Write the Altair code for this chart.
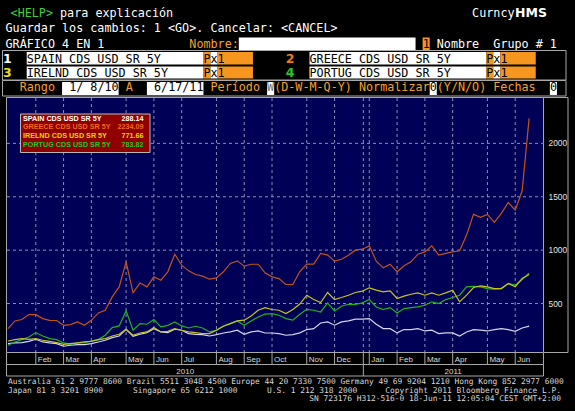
import datetime as dt
import pandas as pd
import altair as alt

# ---------------- data ----------------
start = dt.date(2010, 1, 8)
n_points = 76
dates = [start + dt.timedelta(weeks=i) for i in range(n_points)]

spain = [125, 131, 134, 146, 165, 140, 131, 125, 100, 109, 115, 115, 125, 140, 156, 181,
         196, 259, 193, 212, 228, 265, 234, 228, 259, 250, 218, 212, 209, 196, 209, 224,
         234, 250, 212, 234, 243, 224, 224, 218, 203, 209, 225, 256, 265, 318, 328, 297,
         328, 337, 353, 353, 359, 306, 265, 265, 225, 256, 256, 265, 243, 250, 218, 225,
         225, 196, 234, 256, 250, 243, 256, 265, 256, 240, 271, 288.14]
greece = [265, 337, 350, 397, 396, 359, 343, 341, 296, 303, 327, 296, 343, 412, 437, 562,
          656, 890, 600, 693, 656, 750, 718, 797, 962, 859, 806, 772, 756, 728, 740, 797,
          875, 900, 850, 868, 868, 787, 750, 734, 678, 678, 800, 869, 869, 969, 953, 897,
          915, 953, 1000, 1009, 1040, 897, 834, 869, 797, 853, 890, 962, 984, 1040, 953, 969,
          984, 994, 1141, 1335, 1307, 1335, 1260, 1344, 1447, 1375, 1556, 2234.09]
ireland = [149, 162, 172, 165, 172, 156, 146, 134, 118, 125, 131, 140, 146, 162, 172, 196,
           212, 259, 203, 224, 234, 275, 234, 240, 265, 250, 234, 228, 218, 218, 250, 287,
           312, 337, 344, 384, 437, 462, 444, 437, 406, 444, 495, 578, 537, 509, 603, 537,
           556, 578, 603, 616, 647, 625, 609, 619, 547, 569, 587, 600, 578, 600, 578, 600,
           625, 516, 578, 650, 665, 656, 640, 640, 687, 656, 734, 771.66]
portugal = [109, 140, 162, 187, 228, 196, 172, 162, 131, 118, 131, 134, 149, 162, 203, 275,
            290, 431, 250, 312, 306, 350, 281, 296, 328, 290, 271, 287, 271, 234, 250, 290,
            312, 337, 296, 337, 374, 400, 406, 390, 359, 344, 400, 446, 437, 421, 506, 431,
            475, 493, 493, 506, 537, 468, 443, 462, 412, 453, 462, 468, 484, 516, 500, 537,
            556, 578, 656, 662, 656, 640, 634, 640, 687, 672, 725, 783.82]

series_names = ["SPAIN CDS USD SR 5Y", "GREECE CDS USD SR 5Y",
                "IRELND CDS USD SR 5Y", "PORTUG CDS USD SR 5Y"]
series_values = [spain, greece, ireland, portugal]
line_colors = ["#d4d4ec", "#c4521e", "#c8c41e", "#1eb41e"]
legend_colors = ["#ffffff", "#f06a1a", "#f0d200", "#22c422"]
legend_values = ["288.14", "2234.09", "771.66", "783.82"]

y_ticks = [500, 1000, 1500, 2000]
month_abbr = ["Jan", "Feb", "Mar", "Apr", "May", "Jun",
              "Jul", "Aug", "Sep", "Oct", "Nov", "Dec"]
year_labels = ["2010", "2011"]
range_start = dt.date(2010, 1, 7)
range_end = dt.date(2011, 7, 1)
year_break = dt.date(2011, 1, 1)


def wk(d):
    return (d - start).days / 7.0


weeks = [wk(d) for d in dates]
month_weeks, month_labels = [], []
for i in range(1, n_points):
    if dates[i].month != dates[i - 1].month:
        month_weeks.append(weeks[i])
        month_labels.append(month_abbr[dates[i].month - 1])

x0, x1 = wk(range_start), wk(range_end)
xb = wk(year_break)
year_pos = [(x0 + xb) / 2, (xb + x1) / 2]

# ---------------- styling ----------------
PL, PR, PT, PB = 7, 543, 98, 352
NAVY = "#000056"
GRID = "#8c8cb8"
BORDER = "#a8a8a8"
ORANGE = "#f7961e"
ORANGE_T = "#f4a02c"
MONO = "DejaVu Sans Mono"
MS = 11.74
SANS = "Liberation Sans"

xscale = alt.Scale(domain=[x0, x1], range=[PL, PR], nice=False, zero=False)
yscale = alt.Scale(domain=[46, 2425], range=[PB, PT], nice=False, zero=False)

one = pd.DataFrame({"k": [0]})


def col(k):
    return 5.5 + 7.07 * k


def T(s, x, y, color="#ffffff", size=MS, font=MONO, weight="normal",
      align="left", baseline="alphabetic"):
    return alt.Chart(one).mark_text(
        text=s, font=font, fontSize=size, fontWeight=weight, color=color,
        align=align, baseline=baseline
    ).encode(x=alt.value(x), y=alt.value(y))


def R(xa, ya, xb_, yb, fill, stroke=None, sw=1):
    kw = {"fill": fill}
    if stroke:
        kw.update(stroke=stroke, strokeWidth=sw)
    else:
        kw.update(strokeWidth=0)
    return alt.Chart(one).mark_rect(**kw).encode(
        x=alt.value(xa), x2=alt.value(xb_), y=alt.value(ya), y2=alt.value(yb))


layers = []

# ---- terminal header ----
layers += [
    T("<HELP>", col(1) - 2, 17, "#3ccc3c"),
    T("para explicación", col(8) - 2, 17),
    T("Curncy", col(66), 17),
    T("HMS", 515, 17, size=12.5, font="DejaVu Sans", weight="bold"),
    T("Guardar los cambios: 1 <GO>. Cancelar: <CANCEL>", col(0), 32),
    T("GRÁFICO 4 EN 1", col(0), 48),
    T("Nombre:", col(26), 48, ORANGE_T),
    R(col(33), 37.5, col(58), 50.5, "#ffffff"),
    R(col(59), 37.5, col(60), 50.5, ORANGE),
    T("1", col(59), 48, "#000000"),
    T("Nombre", col(61), 48),
    T("Grupo # 1", col(69), 48),
]

# ---- series rows ----
layers.append(R(2.5, 50.5, 566, 80, "#000000", BORDER))
digit_cols = ["#ffffff", "#f07a1a", "#f0dc1e", "#2cc42c"]
for idx, name in enumerate(series_names):
    row = idx // 2
    half = idx % 2
    ya, yb = (52, 64.5) if row == 0 else (66.5, 78.5)
    base = 63 if row == 0 else 77
    c0 = 0 if half == 0 else 40
    layers += [
        T(str(idx + 1), col(c0) - 2.5, base, digit_cols[idx], size=12.5,
          font="DejaVu Sans", weight="bold"),
        R(col(c0 + 3), ya, col(c0 + 28), yb, "#ffffff"),
        T(name, col(c0 + 3), base, "#000000"),
        R(col(c0 + 28), ya, col(c0 + 29), yb, ORANGE),
        T("P", col(c0 + 28), base, "#000000"),
        R(col(c0 + 29), ya, col(c0 + 30), yb, "#ffffff"),
        T("x", col(c0 + 29), base, "#000000"),
        R(col(c0 + 30), ya, col(c0 + 35), yb, ORANGE),
        T("1", col(c0 + 30), base, "#000000"),
    ]

# ---- range row ----
layers += [
    R(2.5, 80.5, 566, 96, "#000000", BORDER),
    T("Rango", col(2), 91, ORANGE_T),
    R(col(8), 82, col(16), 95, "#ffffff"),
    T("1/ 8/10", col(16), 91, "#000000", align="right"),
    T("A", col(17), 91, ORANGE_T),
    R(col(20), 82, col(28), 95, "#ffffff"),
    T("6/17/11", col(28), 91, "#000000", align="right"),
    T("Período", col(29), 91, ORANGE_T),
    R(col(37), 82, col(38), 95, "#ffffff"),
    T("W", col(37), 91, "#707070"),
    T("(D-W-M-Q-Y) Normalizar", col(38), 91, ORANGE_T),
    R(col(60), 82, col(61), 95, "#ffffff"),
    T("0", col(60), 91, "#000000"),
    T("(Y/N/O) Fechas", col(61), 91, ORANGE_T),
    R(col(77), 82, col(78), 95, "#ffffff"),
    T("0", col(77), 91, "#000000"),
]

# ---- plot frame ----
layers += [
    R(PL - 0.5, PT - 0.5, PR + 0.5, PB + 0.5, NAVY, BORDER),
    R(PR + 0.5, PT - 0.5, 568, PB + 0.5, "#000000", BORDER),
]

# gridlines
layers.append(
    alt.Chart(pd.DataFrame({"v": y_ticks})).mark_rule(
        color=GRID, strokeDash=[3, 3], strokeWidth=1
    ).encode(y=alt.Y("v:Q", scale=yscale, axis=None),
             x=alt.value(PL), x2=alt.value(PR + 3))
)
grid_weeks = month_weeks + [xb]
layers.append(
    alt.Chart(pd.DataFrame({"w": grid_weeks})).mark_rule(
        color=GRID, strokeDash=[3, 3], strokeWidth=1
    ).encode(x=alt.X("w:Q", scale=xscale, axis=None),
             y=alt.value(PT), y2=alt.value(PB))
)

# data lines (drawing order)
for i in [0, 1, 3, 2]:
    df = pd.DataFrame({"w": weeks, "v": series_values[i]})
    layers.append(
        alt.Chart(df).mark_line(color=line_colors[i], strokeWidth=1.2).encode(
            x=alt.X("w:Q", scale=xscale, axis=None),
            y=alt.Y("v:Q", scale=yscale, axis=None))
    )

# y tick labels
layers.append(
    alt.Chart(pd.DataFrame({"v": y_ticks, "t": [str(v) for v in y_ticks]})).mark_text(
        font=SANS, fontSize=8.4, color="#e4e4e4", align="left", baseline="middle"
    ).encode(y=alt.Y("v:Q", scale=yscale, axis=None), x=alt.value(548.5), text="t:N")
)

# in-plot legend box
layers.append(R(20.5, 114, 150, 152.5, "#900000", "#b8b8b8"))
for i, name in enumerate(series_names):
    yy = 120.5 + 8.7 * i
    layers += [
        T(name, 23, yy, legend_colors[i], size=7.2, font=SANS, weight="bold"),
        T(legend_values[i], 143.5, yy, legend_colors[i], size=7.2, font=SANS,
          weight="bold", align="right"),
    ]

# month band & year band
layers += [
    R(PL - 0.5, PB + 0.5, PR + 0.5, 364.5, "#000000", BORDER),
    R(PL - 0.5, 364.5, PR + 0.5, 376, "#000000", BORDER),
]
layers.append(
    alt.Chart(pd.DataFrame({"w": month_weeks})).mark_rule(
        color=BORDER, strokeWidth=1
    ).encode(x=alt.X("w:Q", scale=xscale, axis=None),
             y=alt.value(PB + 0.5), y2=alt.value(364.5))
)
layers.append(
    alt.Chart(pd.DataFrame({"w": [xb]})).mark_rule(
        color=BORDER, strokeWidth=1
    ).encode(x=alt.X("w:Q", scale=xscale, axis=None),
             y=alt.value(PB + 0.5), y2=alt.value(376))
)
layers.append(
    alt.Chart(pd.DataFrame({"w": month_weeks, "t": month_labels})).mark_text(
        font=SANS, fontSize=8, color="#d8d8d8", align="left", baseline="alphabetic", dx=2
    ).encode(x=alt.X("w:Q", scale=xscale, axis=None), y=alt.value(362), text="t:N")
)
layers.append(
    alt.Chart(pd.DataFrame({"w": year_pos, "t": year_labels})).mark_text(
        font=SANS, fontSize=8, color="#d8d8d8", align="center", baseline="alphabetic"
    ).encode(x=alt.X("w:Q", scale=xscale, axis=None), y=alt.value(373.5), text="t:N")
)

# footer
FS = 7.9
FC = "#d8d8d8"
layers += [
    T("Australia 61 2 9777 8600 Brazil 5511 3048 4500 Europe 44 20 7330 7500 "
      "Germany 49 69 9204 1210 Hong Kong 852 2977 6000", 8, 384, FC, size=FS),
    T("Japan 81 3 3201 8900", 8, 392.5, FC, size=FS),
    T("Singapore 65 6212 1000", 133, 392.5, FC, size=FS),
    T("U.S. 1 212 318 2000", 267, 392.5, FC, size=FS),
    T("Copyright 2011 Bloomberg Finance L.P.", 561, 392.5, FC, size=FS, align="right"),
    T("SN 723176 H312-516-0 18-Jun-11 12:05:04 CEST GMT+2:00", 561, 401, FC,
      size=FS, align="right"),
]

chart = alt.layer(*layers).properties(
    width=575, height=411,
    autosize=alt.AutoSizeParams(type="none"),
    padding=0,
    background="#000000",
).configure_view(stroke=None)

chart.save("out.html", embed_options={"renderer": "svg", "actions": False})
